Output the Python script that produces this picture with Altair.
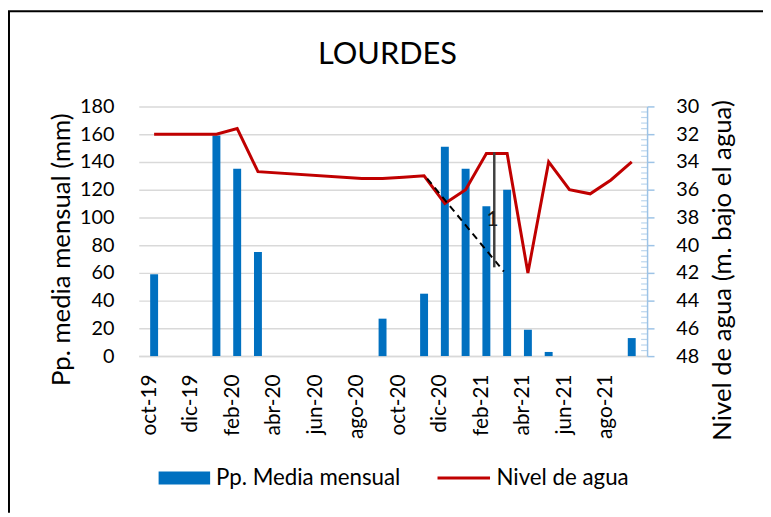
import altair as alt
import pandas as pd

# ---- data ----
meses = ["oct-19", "nov-19", "dic-19", "ene-20", "feb-20", "mar-20", "abr-20", "may-20",
         "jun-20", "jul-20", "ago-20", "sep-20", "oct-20", "nov-20", "dic-20", "ene-21",
         "feb-21", "mar-21", "abr-21", "may-21", "jun-21", "jul-21", "ago-21", "sep-21"]
pp_media = [59, 0, 0, 159, 135, 75, 0, 0, 0, 0, 0, 27, 0, 45, 151, 135, 108, 120, 19, 3, 0, 0, 0, 13]
nivel_agua = [32.0, 32.0, 32.0, 32.0, 31.6, 34.7, None, None, None, None, 35.2, 35.2, 35.1, 35.0,
              37.0, 36.0, 33.4, 33.4, 42.0, 34.0, 36.0, 36.3, 35.3, 34.0]
left_ticks = [0, 20, 40, 60, 80, 100, 120, 140, 160, 180]
right_ticks = [30, 32, 34, 36, 38, 40, 42, 44, 46, 48]
x_label_idx = [0, 2, 4, 6, 8, 10, 12, 14, 16, 18, 20, 22]
minor_ticks = [round(30 + 0.4 * k, 1) for k in range(46) if (k % 5) != 0]

# annotation (dashed trend line, vertical segment and its "1" label), in axis units
dash_x = [13.15, 16.84]
dash_y = [35.2, 41.9]
vline_x = [16.38]
vline_y1 = [33.3]
vline_y2 = [41.6]
label1_x = [16.3]
label1_y = [38.2]

TITLE = "LOURDES"
S1 = "Pp. Media mensual"
S2 = "Nivel de agua"
FONT = "Lato"
W, H = 513, 252

df = pd.DataFrame({"idx": list(range(len(meses))), "mes": meses, "pp": pp_media,
                   "nivel": nivel_agua})
df["s1"] = S1
df["s2"] = S2
df_line = df.dropna(subset=["nivel"]).reset_index(drop=True)
df_minor = pd.DataFrame({"v": minor_ticks})
df_dash = pd.DataFrame({"idx": dash_x, "nivel": dash_y})
df_vline = pd.DataFrame({"idx": vline_x, "ya": vline_y1, "yb": vline_y2})
df_lab = pd.DataFrame({"idx": label1_x, "nivel": label1_y, "t": ["1"]})
df_border = pd.DataFrame({"a": [0], "b": [1], "t": [TITLE]})

# tick label text for each labelled month index
label_expr = " : ".join(
    f"datum.value == {i} ? '{meses[i]}'" for i in x_label_idx
) + " : ''"
xscale = alt.Scale(domain=[-0.5, 23.5], nice=False, zero=False)
yright = alt.Scale(domain=[30, 48], reverse=True, nice=False, zero=False)
x_axis = alt.Axis(values=x_label_idx, labelExpr=label_expr, labelAngle=270,
                  grid=False, ticks=False, domainColor="#D9D9D9", domainWidth=1.5,
                  labelPadding=18, labelOffset=-5, labelFontSize=21, labelFont=FONT,
                  labelColor="#000000", title=None)


def xenc():
    return alt.X("idx:Q", scale=xscale, axis=x_axis)


bars = alt.Chart(df).mark_bar(size=8).encode(
    x=xenc(),
    y=alt.Y("pp:Q", scale=alt.Scale(domain=[0, 180], nice=False),
            axis=alt.Axis(values=left_ticks, grid=True, gridColor="#D9D9D9", gridWidth=1.5,
                          domain=False, ticks=False, labelPadding=25, labelFontSize=20,
                          labelFont=FONT, labelColor="#000000",
                          title="Pp. media mensual (mm)", titleFont=FONT, titleFontSize=26,
                          titleFontWeight="normal", titleColor="#000000", titleAngle=270,
                          titleAlign="center", titleBaseline="middle", titleX=-78, titleY=144)),
    color=alt.Color("s1:N", scale=alt.Scale(domain=[S1], range=["#0070C0"]),
                    legend=alt.Legend(title=None, orient="none", legendX=20, legendY=349,
                                      symbolType="M-1,-0.25H1V0.25H-1Z", symbolSize=2704,
                                      symbolStrokeWidth=0, labelFont=FONT, labelFontSize=22.5,
                                      labelLimit=400, labelColor="#000000", labelOffset=6,
                                      padding=0)),
)

line = alt.Chart(df_line).mark_line(strokeWidth=3).encode(
    x=xenc(),
    y=alt.Y("nivel:Q", scale=yright,
            axis=alt.Axis(orient="right", values=right_ticks, grid=False, domainColor="#9DC3E6",
                          domainWidth=1.5, tickColor="#9DC3E6", tickWidth=1.5, tickSize=7,
                          labelPadding=22, labelFontSize=20, labelFont=FONT, labelColor="#000000",
                          title="Nivel de agua (m. bajo el agua)", titleFont=FONT,
                          titleFontSize=26, titleFontWeight="normal", titleColor="#000000",
                          titleAngle=270, titleAlign="center", titleBaseline="middle",
                          titleX=76, titleY=165)),
    stroke=alt.Stroke("s2:N", scale=alt.Scale(domain=[S2], range=["#C00000"]),
                      legend=alt.Legend(title=None, orient="none", legendX=300, legendY=347,
                                        symbolType="stroke", symbolSize=2809,
                                        symbolStrokeWidth=3, labelFont=FONT, labelFontSize=22.5,
                                        labelLimit=400, labelColor="#000000", labelOffset=5,
                                        padding=0)),
)

minor = alt.Chart(df_minor).mark_tick(color="#9DC3E6", thickness=1.2, size=6).encode(
    y=alt.Y("v:Q", scale=yright, axis=None),
    x=alt.value(W - 3),
)

dash = alt.Chart(df_dash).mark_line(color="#000000", strokeWidth=2, strokeDash=[7, 5]).encode(
    x=xenc(),
    y=alt.Y("nivel:Q", scale=yright, axis=None),
)

vline = alt.Chart(df_vline).mark_rule(color="#404040", strokeWidth=2.5).encode(
    x=xenc(),
    y=alt.Y("ya:Q", scale=yright, axis=None),
    y2=alt.Y2("yb"),
)

lab = alt.Chart(df_lab).mark_text(font=FONT, fontSize=21, color="#1A1A1A").encode(
    x=xenc(),
    y=alt.Y("nivel:Q", scale=yright, axis=None),
    text=alt.Text("t:N"),
)

# chart-area frame (left and top edges visible in the reference) and chart title
frame_scale = alt.Scale(domain=[0, 1], range=[-96, 410], nice=False, zero=False)
frame_left = alt.Chart(df_border).mark_rule(color="#000000", strokeWidth=2).encode(
    x=alt.value(-131),
    y=alt.Y("a:Q", scale=frame_scale, axis=None),
    y2=alt.Y2("b"),
)
frame_top = alt.Chart(df_border).mark_rule(color="#000000", strokeWidth=2).encode(
    x=alt.value(-132), x2=alt.value(W + 125),
    y=alt.Y("a:Q", scale=frame_scale, axis=None),
)
title_scale = alt.Scale(domain=[0, 1], range=[-43, 0], nice=False, zero=False)
title = alt.Chart(df_border).mark_text(font=FONT, fontSize=31, color="#000000",
                                       align="center", baseline="alphabetic").encode(
    x=alt.value(251),
    y=alt.Y("a:Q", scale=title_scale, axis=None),
    text=alt.Text("t:N"),
)

chart = alt.layer(bars, line, minor, dash, vline, lab, frame_left, frame_top, title).resolve_scale(
    y="independent"
).properties(
    width=W, height=H,
    autosize=alt.AutoSizeParams(type="none"),
    padding={"left": 132, "top": 97, "right": 117, "bottom": 156},
).configure_view(strokeWidth=0)

chart.save("out.html", embed_options={"renderer": "svg", "actions": False})
